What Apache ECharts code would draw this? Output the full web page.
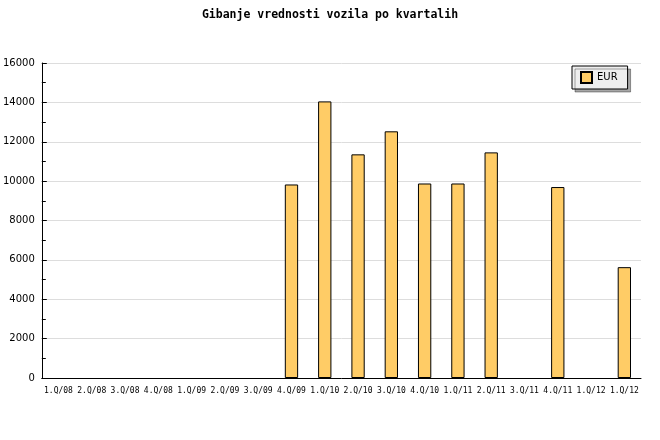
<!DOCTYPE html>
<html>
<head>
<meta charset="utf-8">
<script src="https://cdn.jsdelivr.net/npm/echarts@6/dist/echarts.min.js"></script>
<style>html,body{margin:0;padding:0;background:#fff}#c{width:660px;height:440px}</style>
</head>
<body>
<div id="c"></div>
<script>
const titleText = 'Gibanje vrednosti vozila po kvartalih';
const categories = ['1.Q/08','2.Q/08','3.Q/08','4.Q/08','1.Q/09','2.Q/09','3.Q/09','4.Q/09','1.Q/10','2.Q/10','3.Q/10','4.Q/10','1.Q/11','2.Q/11','3.Q/11','4.Q/11','1.Q/12','1.Q/12'];
const eurValues = [null,null,null,null,null,null,null,9830,14050,11360,12530,9880,9880,11460,null,9700,null,5630];
const seriesName = 'EUR';
const yMin = 0, yMax = 16000, yStep = 2000;

const chart = echarts.init(document.getElementById('c'), null, {renderer:'canvas'});
chart.setOption({
  animation: false,
  backgroundColor: '#ffffff',
  title: {
    text: titleText, left: 'center', top: 4,
    textStyle: {fontFamily: 'DejaVu Sans Mono', fontWeight: 'bold', fontSize: 11.5, color: '#000'}
  },
  legend: {
    data: [seriesName], left: 572, top: 66, orient: 'vertical',
    padding: [5, 10, 5, 8], itemWidth: 11, itemHeight: 11, itemGap: 0,
    icon: 'rect',
    backgroundColor: '#eeeeee', borderColor: '#000', borderWidth: 1,
    shadowColor: 'rgba(0,0,0,0.35)', shadowOffsetX: 3, shadowOffsetY: 3, shadowBlur: 0,
    textStyle: {fontFamily: 'DejaVu Sans', fontSize: 10, color: '#000'}
  },
  grid: {left: 41, right: 19, top: 63, bottom: 62, containLabel: false},
  xAxis: {
    type: 'category', data: categories,
    axisLine: {lineStyle: {color: '#000', width: 1}},
    axisTick: {inside: true, length: 4, lineStyle: {color: '#000'}},
    axisLabel: {interval: 0, fontFamily: 'DejaVu Sans Mono', fontSize: 8, color: '#000', margin: 9}
  },
  yAxis: {
    type: 'value', min: yMin, max: yMax, interval: yStep,
    axisLine: {show: true, lineStyle: {color: '#000', width: 1}},
    axisTick: {show: true, inside: true, length: 5, lineStyle: {color: '#000'}},
    minorTick: {show: true, splitNumber: 2, length: 4, lineStyle: {color: '#000'}},
    splitLine: {show: true, lineStyle: {color: '#dddddd', width: 1}},
    axisLabel: {fontFamily: 'DejaVu Sans', fontSize: 10, color: '#000', margin: 7,
      formatter: function (v) { return String(v); }}
  },
  series: [{
    name: seriesName, type: 'bar', data: eurValues, barWidth: '40%',
    itemStyle: {color: '#ffcc66', borderColor: '#000', borderWidth: 1}
  }]
});
</script>
</body>
</html>
